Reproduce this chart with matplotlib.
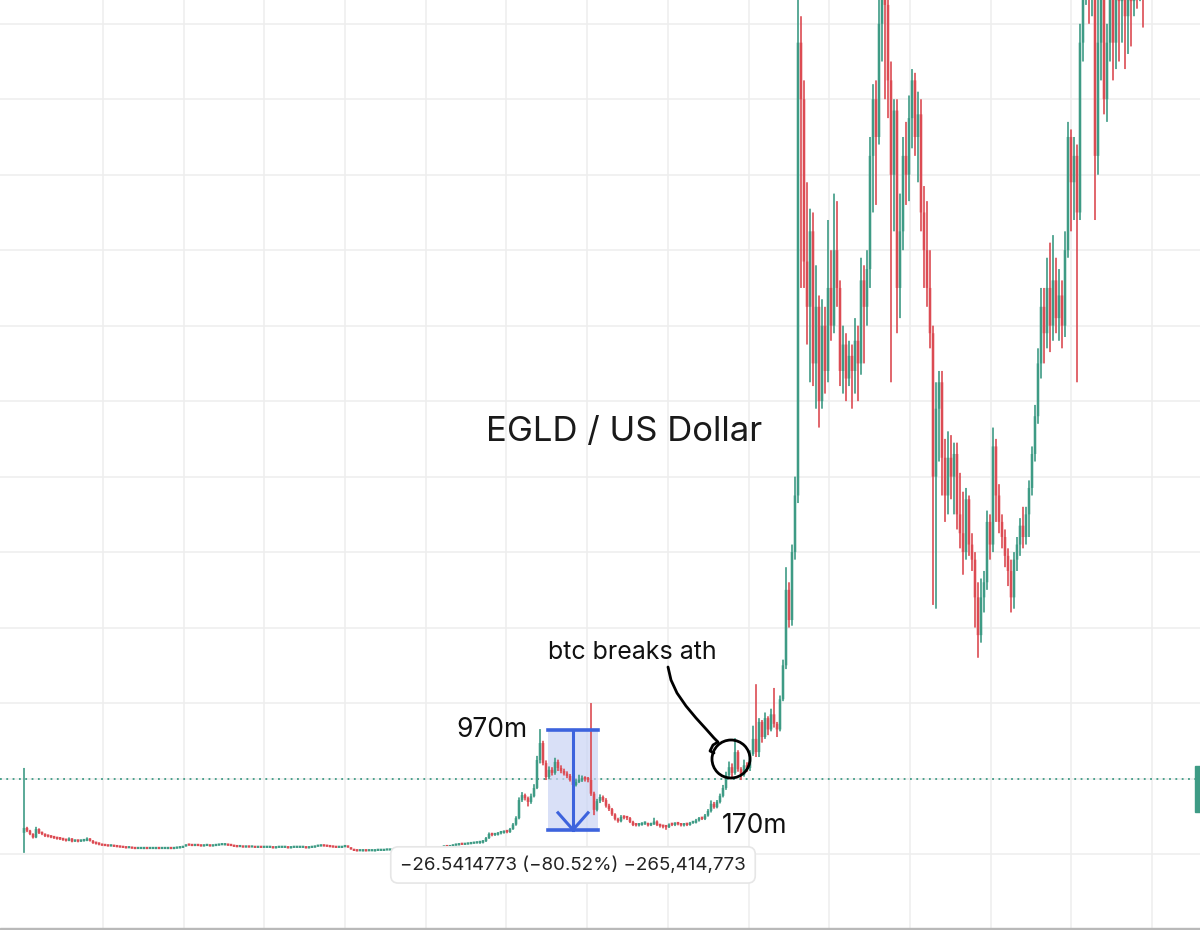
import numpy as np
import matplotlib.pyplot as plt
import matplotlib.patches as mpatches

plt.rcParams['font.family'] = ['Inter', 'DejaVu Sans']

GREEN = '#3e9b85'
RED = '#dc4b53'
BLUE = '#3d63dd'

# --- price data (USD), one candle per step, open = previous close ---
first_open = 5.6

# listing weeks
listing_close = [6.9, 6.2, 5.3, 4.4, 6.6, 5.6, 5.3, 4.8, 4.6, 4.4, 4.2, 4.0, 3.9, 3.7, 3.5, 4.1,
                 3.3, 3.4, 3.3, 3.4, 3.5, 4.1, 3.5, 2.9, 2.7, 2.5]
listing_high = [22.8, 7.2, 6.4, 5.5, 7.2, 6.8, 5.9, 5.4, 5.0, 4.8, 4.6, 4.4, 4.2, 4.0, 3.9, 4.4,
                4.2, 3.7, 3.6, 3.6, 3.7, 4.4, 4.2, 3.7, 3.1, 2.9]
listing_low = [0.3, 5.8, 5.0, 4.1, 4.2, 5.3, 5.0, 4.5, 4.4, 4.2, 4.0, 3.8, 3.7, 3.5, 3.3, 3.4,
               3.1, 3.2, 3.1, 3.2, 3.3, 3.4, 3.3, 2.7, 2.5, 2.3]

# long flat stretch (wicks too small to see)
flat_close = [2.2, 2.1, 2.0, 2.1, 1.9, 1.8, 1.7, 1.6, 1.5, 1.5,
              1.4, 1.3, 1.3, 1.3, 1.4, 1.3, 1.3, 1.3, 1.4, 1.3,
              1.3, 1.3, 1.4, 1.3, 1.4, 1.5, 1.6, 2.0, 2.3, 2.2,
              2.1, 2.2, 2.1, 2.0, 2.1, 2.1, 2.0, 2.1, 2.2, 2.3,
              2.3, 2.4, 2.2, 2.1, 1.9, 1.8, 1.8, 1.7, 1.8, 1.7,
              1.7, 1.6, 1.7, 1.6, 1.6, 1.6, 1.6, 1.5, 1.6, 1.6,
              1.6, 1.6, 1.5, 1.6, 1.6, 1.6, 1.6, 1.6, 1.5, 1.6,
              1.7, 1.9, 2.0, 2.1, 2.0, 1.9, 1.8, 1.7, 1.6, 1.6,
              1.8, 1.9, 1.7, 1.2, 0.8, 0.7, 0.7, 0.8, 0.7, 0.7,
              0.7, 0.8, 0.8, 0.8, 0.9, 0.9, 0.9, 1.0, 1.0, 1.1,
              1.1, 1.1, 1.2, 1.2, 1.2, 1.3, 1.3, 1.4, 1.4, 1.6,
              1.5, 1.6, 1.5, 1.7, 1.9, 1.8, 2.0, 2.2, 2.3, 2.5,
              2.4, 2.5, 2.6, 2.7, 2.8, 2.9]

# 2020 run-up, top and bleed
rally_close = [3.0, 3.4, 4.2, 5.3, 5.0, 5.1, 5.5, 5.6, 5.9, 5.8,
               6.6, 7.8, 9.5, 14.3, 15.6, 14.8, 13.8, 15.3, 17.5, 24.9,
               29.4, 24.1, 20.4, 22.3, 21.5, 24.4, 22.8, 22.0, 21.3, 20.7,
               19.6, 18.3, 19.1, 19.5, 20.1, 19.8, 19.6, 16.0, 11.7, 14.0,
               15.1, 14.3, 12.8, 11.9, 10.5, 9.3, 8.7, 9.8, 9.6, 9.5,
               8.5, 7.7, 7.6, 7.7, 8.0, 8.1, 7.6, 7.9, 8.6, 7.7,
               7.4, 7.2, 7.1, 7.8, 7.7, 8.0, 7.9, 7.6, 7.8, 7.7,
               8.2, 8.3, 8.9, 9.4, 9.3, 10.2, 11.4, 13.3, 12.4, 13.8,
               15.4]
rally_high = [3.3, 3.7, 4.5, 5.7, 5.6, 5.5, 5.8, 6.0, 6.2, 6.3,
              6.9, 8.2, 10.0, 15.0, 16.4, 16.0, 15.2, 16.0, 18.5, 26.0,
              33.1, 30.0, 24.8, 23.2, 23.0, 25.5, 25.0, 23.5, 22.6, 21.9,
              21.2, 20.0, 19.8, 21.0, 20.8, 20.6, 20.4, 40.0, 16.5, 14.6,
              15.8, 15.5, 14.8, 13.3, 12.2, 10.8, 9.6, 10.3, 10.2, 10.0,
              9.8, 8.8, 8.0, 8.1, 8.4, 8.6, 8.3, 8.3, 9.6, 8.9,
              8.0, 7.7, 7.5, 8.1, 8.1, 8.4, 8.3, 8.2, 8.1, 8.0,
              8.5, 8.7, 9.3, 9.8, 9.8, 10.6, 11.9, 14.2, 13.8, 14.3,
              16.0]
rally_low = [2.7, 2.8, 3.2, 4.0, 4.7, 4.8, 4.9, 5.2, 5.4, 5.5,
             5.6, 6.4, 7.5, 9.2, 13.8, 14.2, 12.6, 13.3, 15.0, 17.2,
             24.0, 23.5, 19.6, 19.8, 20.8, 21.0, 22.0, 21.4, 20.8, 20.1,
             19.2, 17.8, 17.9, 18.8, 19.1, 19.2, 19.0, 15.4, 10.3, 11.3,
             13.5, 13.8, 12.3, 11.4, 10.1, 8.9, 8.3, 8.4, 9.2, 9.0,
             8.2, 7.4, 7.3, 7.3, 7.5, 7.7, 7.3, 7.4, 7.7, 7.4,
             7.0, 6.8, 6.42, 6.9, 7.4, 7.4, 7.6, 7.3, 7.3, 7.4,
             7.5, 8.0, 8.1, 8.6, 9.0, 9.0, 9.9, 11.0, 12.0, 12.1,
             13.4]

# breakout after btc ath
breakout_close = [17.5, 20.9, 23.0, 21.5, 27.0, 22.5, 21.0, 23.5, 22.8, 26.5, 30.5, 27.0, 35.0,
                  31.0, 36.0, 33.0, 37.0, 34.5, 33.0, 41.0, 50.0, 70.0, 62.0, 80.0, 95.0]
breakout_high = [18.3, 21.8, 24.5, 24.0, 30.7, 27.5, 23.0, 25.0, 24.3, 27.5, 34.0, 45.0, 36.0,
                 35.5, 37.5, 36.5, 38.5, 44.0, 35.0, 42.0, 51.5, 76.0, 72.0, 82.0, 100.0]
breakout_low = [15.0, 17.0, 20.2, 20.0, 21.0, 21.8, 19.6, 20.5, 21.8, 22.0, 26.0, 25.7, 25.7,
                29.5, 30.5, 31.5, 32.5, 33.5, 31.0, 32.5, 40.5, 49.0, 60.0, 60.5, 78.0]

# 2021
run_close = [215, 200, 157, 145, 165, 130, 145, 120, 140, 128, 150, 140, 160, 150, 128, 135,
             126, 132, 128, 136, 130, 152, 145, 155, 185, 200, 190, 220, 240, 225, 205, 180,
             197, 150, 165, 185, 180, 195, 205, 190, 196, 170, 160, 150, 138, 100, 118, 125,
             105, 95, 105, 100, 106, 90, 85, 80, 94, 82, 78, 68, 58, 68, 72, 88,
             82, 108, 95, 88, 84, 79, 75, 68, 78, 82, 87, 84, 90, 97, 106, 116,
             130, 145, 138, 150, 140, 152, 142, 148, 140, 160, 190, 178, 185, 170, 215, 232,
             240, 230, 235, 185, 215, 228, 200, 215, 230, 215, 232, 226, 235, 222, 232, 226,
             236, 230, 238, 232]
run_high = [232, 222, 205, 178, 171, 170, 156, 148, 147, 145, 168, 160, 175, 173, 152, 140,
            138, 136, 135, 142, 140, 158, 156, 160, 190, 204, 205, 240, 260, 255, 232, 210,
            200, 200, 175, 190, 194, 201, 208, 207, 202, 200, 177, 173, 160, 140, 125, 128,
            128, 110, 112, 111, 109, 109, 101, 96, 97, 95, 85, 80, 72, 73, 75, 91,
            90, 113, 110, 98, 90, 86, 81, 78, 80, 84, 89, 92, 92, 99, 108, 119,
            134, 150, 150, 158, 162, 164, 158, 155, 152, 165, 194, 192, 190, 188, 220, 245,
            255, 250, 245, 240, 228, 240, 232, 220, 240, 235, 240, 240, 245, 242, 240, 238,
            245, 242, 250, 245]
run_low = [93, 150, 150, 135, 125, 124, 118, 113, 118, 122, 125, 136, 138, 145, 124, 122,
           120, 124, 118, 122, 120, 127, 130, 140, 150, 170, 172, 188, 210, 200, 195, 125,
           165, 138, 142, 160, 172, 173, 187, 185, 178, 165, 150, 145, 134, 66, 65, 104,
           95, 88, 90, 94, 90, 86, 81, 74, 78, 79, 75, 60, 52, 56, 64, 70,
           78, 80, 88, 85, 81, 76, 71, 64, 65, 75, 79, 81, 82, 84, 95, 104,
           114, 126, 130, 134, 133, 136, 138, 136, 134, 137, 158, 165, 168, 125, 168, 210,
           225, 220, 222, 168, 180, 205, 196, 194, 210, 205, 208, 210, 215, 208, 212, 214,
           222, 224, 226, 219]

# measure tool: 970m top -> 170m bottom
measure_top = 32.9614773
measure_change = -26.5414773
measure_pct = -80.52
measure_cap = -265414773
last_line = 19.9

# --- assemble candles ---
closes = np.array(listing_close + flat_close + rally_close + breakout_close + run_close, dtype=float)
opens = np.concatenate([[first_open], closes[:-1]])
n_list = len(listing_close)
n_flat = len(flat_close)
fo = opens[n_list:n_list + n_flat]
fc = closes[n_list:n_list + n_flat]
highs = np.concatenate([listing_high, np.maximum(fo, fc), rally_high, breakout_high, run_high])
lows = np.concatenate([listing_low, np.minimum(fo, fc), rally_low, breakout_low, run_low])
x = np.arange(len(closes))

fig = plt.figure(figsize=(12, 9.3), dpi=100)
ax = fig.add_axes([0, 0, 1, 1])
ax.set_xlim(-8, 392)
ax.set_ylim(-20.14, 226.3)

# grid
ax.set_xticks(np.arange(26.3, 392, 26.9))
ax.set_yticks(np.arange(0, 226, 20))
ax.grid(True, color='#eeeeee', lw=1.1)
ax.tick_params(length=0, labelbottom=False, labelleft=False)
for s in ax.spines.values():
    s.set_visible(False)
ax.set_axisbelow(True)

# dotted price line
ax.axhline(last_line, color=GREEN, ls=(0, (1, 2.5)), lw=1.3, zorder=2)

# candles
up = closes >= opens
for mask, col in [(up, GREEN), (~up, RED)]:
    wl = ax.vlines(x[mask], lows[mask], highs[mask], color=col, lw=1.2, zorder=3)
    wl.set_snap(False)
    body = np.maximum(np.abs(closes[mask] - opens[mask]), 0.6)
    bars = ax.bar(x[mask], body, bottom=np.minimum(opens[mask], closes[mask]),
                  width=0.85, color=col, lw=0, zorder=3)
    for b in bars:
        b.set_snap(False)

# measurement box
bx0, bx1, bxc = 174.7, 191.3, 183.0
bottom = measure_top + measure_change
ax.add_patch(mpatches.Rectangle((bx0, bottom), bx1 - bx0, measure_top - bottom,
                                facecolor='#c9d4f4', alpha=0.7, lw=0, zorder=2))
ax.plot([bx0, bx1], [measure_top, measure_top], color=BLUE, lw=2.6, zorder=4)
ax.plot([bx0, bx1], [bottom, bottom], color=BLUE, lw=2.6, zorder=4)
ax.plot([bxc, bxc], [measure_top, bottom], color=BLUE, lw=2.2, zorder=4)
ax.plot([bxc - 5, bxc, bxc + 5], [bottom + 4.5, bottom, bottom + 4.5], color=BLUE, lw=2.2, zorder=4)

label = f"\u2212{abs(measure_change):.7f} (\u2212{abs(measure_pct):.2f}%) \u2212{abs(measure_cap):,}"
ax.text(bxc, -2.9, label, ha='center', va='center', fontsize=13.5, color='#222222', zorder=6,
        bbox=dict(boxstyle='round,pad=0.5,rounding_size=0.4', fc='white', ec='#e6e6e6', lw=1.2))

# texts
ax.text(200, 111.8, 'EGLD / US Dollar', ha='center', va='center', fontsize=25, color='#1a1a1a')
ax.text(168, 32.8, '970m', ha='right', va='center', fontsize=19, color='#111111')
ax.text(232.5, 7.4, '170m', ha='left', va='center', fontsize=19, color='#111111')
ax.text(202.7, 53.5, 'btc breaks ath', ha='center', va='center', fontsize=18, color='#111111')

# hand-drawn pointer and circle (image pixel positions)
def px(xp, yp):
    return xp / 1200, 1 - yp / 930

pts = [(668, 667), (671, 680), (677, 693), (686, 706), (696, 718), (706, 729), (714, 738),
       (718, 742), (713, 745), (710, 751), (714, 753)]
fig.lines.append(plt.Line2D([px(a, b)[0] for a, b in pts], [px(a, b)[1] for a, b in pts],
                            transform=fig.transFigure, color='black', lw=2, solid_capstyle='round'))
circ = mpatches.Ellipse(px(731, 759), 38 / 1200, 38 / 930, angle=0, transform=fig.transFigure,
                        fill=False, ec='black', lw=2)
fig.patches.append(circ)

# right price tag and bottom border
fig.patches.append(mpatches.Rectangle((1195 / 1200, 1 - 812 / 930), 6 / 1200, 46 / 930,
                                      transform=fig.transFigure, color=GREEN))
fig.patches.append(mpatches.Rectangle((0, 0), 1, 2 / 930, transform=fig.transFigure, color='#b9b9b9'))

fig.savefig('out.png', dpi=100)
